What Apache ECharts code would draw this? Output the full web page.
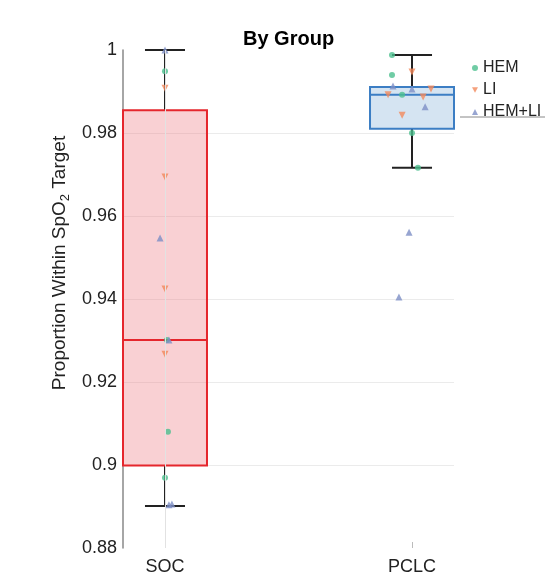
<!DOCTYPE html>
<html>
<head>
<meta charset="utf-8">
<script src="https://cdn.jsdelivr.net/npm/echarts@6/dist/echarts.min.js"></script>
<style>
  html, body { margin: 0; padding: 0; background: #fff; }
  #chart { width: 556px; height: 577px; }
</style>
</head>
<body>
<div id="chart"></div>
<script>
// groups sit at x = 1 (SOC) and x = 2 (PCLC)
const groups = ['SOC', 'PCLC']
const groupX = [1, 2]

// box stats
const whiskerLow = [0.8901, 0.9716]
const q1 = [0.8999, 0.9810]
const median = [0.9301, 0.9892]
const q3 = [0.9855, 0.9911]
const whiskerHigh = [1.0, 0.9988]

// points (x includes the jitter)
const hemX = [1.0, 1.008, 1.012, 1.0, 1.919, 1.919, 1.96, 2.0, 2.024]
const hemY = [0.9949, 0.9301, 0.9080, 0.8969, 0.9988, 0.9940, 0.9892, 0.9800, 0.9716]
const liX = [1.0, 1.0, 1.0, 1.0, 2.0, 2.077, 1.903, 2.045, 1.96]
const liY = [0.9908, 0.9694, 0.9424, 0.9267, 0.9947, 0.9906, 0.9892, 0.9887, 0.9843]
const hemLiX = [1.0, 0.98, 1.016, 1.016, 1.028, 1.923, 2.0, 2.053, 1.988, 1.947]
const hemLiY = [1.0, 0.9547, 0.9301, 0.8904, 0.8906, 0.9913, 0.9906, 0.9863, 0.9561, 0.9405]

const boxFill = ['rgba(239, 120, 128, 0.35)', '#d5e4f2']
const boxEdge = ['#e5262d', '#3c7ec4']
const font = 'Liberation Sans, Arial, sans-serif'

const zip = (xs, ys) => xs.map((x, i) => [x, ys[i]])

const chart = echarts.init(document.getElementById('chart'))

const renderBox = (params, api) => {
  const i = params.dataIndex
  const x = api.value(0)
  const boxHalf = 0.17
  const capHalf = 0.081
  const tl = api.coord([x - boxHalf, api.value(4)])
  const br = api.coord([x + boxHalf, api.value(2)])
  const mid = api.coord([x, api.value(3)])
  const hi = api.coord([x, api.value(5)])
  const lo = api.coord([x, api.value(1)])
  const capL = api.coord([x - capHalf, 0])[0]
  const capR = api.coord([x + capHalf, 0])[0]
  const wStyle = { stroke: '#222', lineWidth: 2 }
  return {
    type: 'group',
    children: [
      { type: 'line', shape: { x1: hi[0], y1: hi[1], x2: hi[0], y2: tl[1] }, style: wStyle },
      { type: 'line', shape: { x1: lo[0], y1: br[1], x2: lo[0], y2: lo[1] }, style: wStyle },
      { type: 'line', shape: { x1: capL, y1: hi[1], x2: capR, y2: hi[1] }, style: wStyle },
      { type: 'line', shape: { x1: capL, y1: lo[1], x2: capR, y2: lo[1] }, style: wStyle },
      {
        type: 'rect',
        shape: { x: tl[0], y: tl[1], width: br[0] - tl[0], height: br[1] - tl[1] },
        style: { fill: boxFill[i], stroke: boxEdge[i], lineWidth: 2 }
      },
      { type: 'line', shape: { x1: tl[0], y1: mid[1], x2: br[0], y2: mid[1] }, style: { stroke: boxEdge[i], lineWidth: 2 } }
    ]
  }
}

const option = {
  animation: false,
  title: {
    text: 'By Group',
    left: 238,
    top: 24,
    textStyle: { fontFamily: font, fontSize: 20, fontWeight: 'bold', color: '#000' }
  },
  legend: {
    orient: 'vertical',
    left: 467,
    top: 55,
    itemWidth: 6,
    itemHeight: 6,
    itemGap: 6,
    textStyle: { fontFamily: font, fontSize: 16, color: '#222' },
    data: [
      { name: 'HEM', icon: 'circle' },
      { name: 'LI', icon: 'path://M0,0L10,0L5,9Z' },
      { name: 'HEM+LI', icon: 'triangle' }
    ]
  },
  grid: { left: 123, right: 102, top: 50, bottom: 29 },
  xAxis: {
    type: 'value',
    min: 0.83,
    max: 2.17,
    axisLine: { show: false },
    splitLine: { show: false },
    axisTick: { show: true, inside: true, length: 6, customValues: groupX, lineStyle: { color: '#bbb' } },
    axisLabel: {
      customValues: groupX,
      margin: 10,
      fontFamily: font,
      fontSize: 18,
      color: '#222',
      formatter: v => groups[groupX.indexOf(v)]
    }
  },
  yAxis: {
    type: 'value',
    min: 0.88,
    max: 1,
    interval: 0.02,
    axisLine: { show: true, lineStyle: { color: '#888', width: 1.5 } },
    axisTick: { show: false },
    splitLine: { show: true, showMinLine: false, showMaxLine: false, lineStyle: { color: '#ebebeb' } },
    axisLabel: {
      margin: 6,
      fontFamily: font,
      fontSize: 18,
      color: '#222',
      formatter: v => String(+v.toFixed(2))
    }
  },
  graphic: [
    {
      type: 'text',
      x: 60,
      y: 263,
      rotation: Math.PI / 2,
      style: {
        text: '{a|Proportion Within SpO}{s|2}{a| Target}',
        align: 'center',
        verticalAlign: 'middle',
        fill: '#222',
        rich: {
          a: { fontFamily: font, fontSize: 19, lineHeight: 24 },
          s: { fontFamily: font, fontSize: 13, verticalAlign: 'bottom', lineHeight: 24 }
        }
      }
    },
    {
      type: 'line',
      shape: { x1: 460, y1: 117, x2: 545, y2: 117 },
      style: { stroke: '#888', lineWidth: 1 }
    }
  ],
  series: [
    {
      type: 'custom',
      renderItem: renderBox,
      z: 1,
      encode: { x: 0, y: [1, 2, 3, 4, 5] },
      data: groupX.map((x, i) => [x, whiskerLow[i], q1[i], median[i], q3[i], whiskerHigh[i]]),
      markLine: {
        silent: true,
        symbol: 'none',
        label: { show: false },
        lineStyle: { color: '#e2e2e2', width: 1, type: 'solid' },
        data: [{ xAxis: 1 }]
      }
    },
    {
      name: 'HEM',
      type: 'scatter',
      symbol: 'circle',
      symbolSize: 6,
      z: 3,
      itemStyle: { color: '#4cbf8f' },
      data: zip(hemX, hemY)
    },
    {
      name: 'LI',
      type: 'scatter',
      symbol: 'triangle',
      symbolRotate: 180,
      symbolSize: 7,
      z: 3,
      itemStyle: { color: '#f3895c' },
      data: zip(liX, liY)
    },
    {
      name: 'HEM+LI',
      type: 'scatter',
      symbol: 'triangle',
      symbolSize: 7,
      z: 3,
      itemStyle: { color: '#7d8fc6' },
      data: zip(hemLiX, hemLiY)
    }
  ]
}

chart.setOption(option)
</script>
</body>
</html>
